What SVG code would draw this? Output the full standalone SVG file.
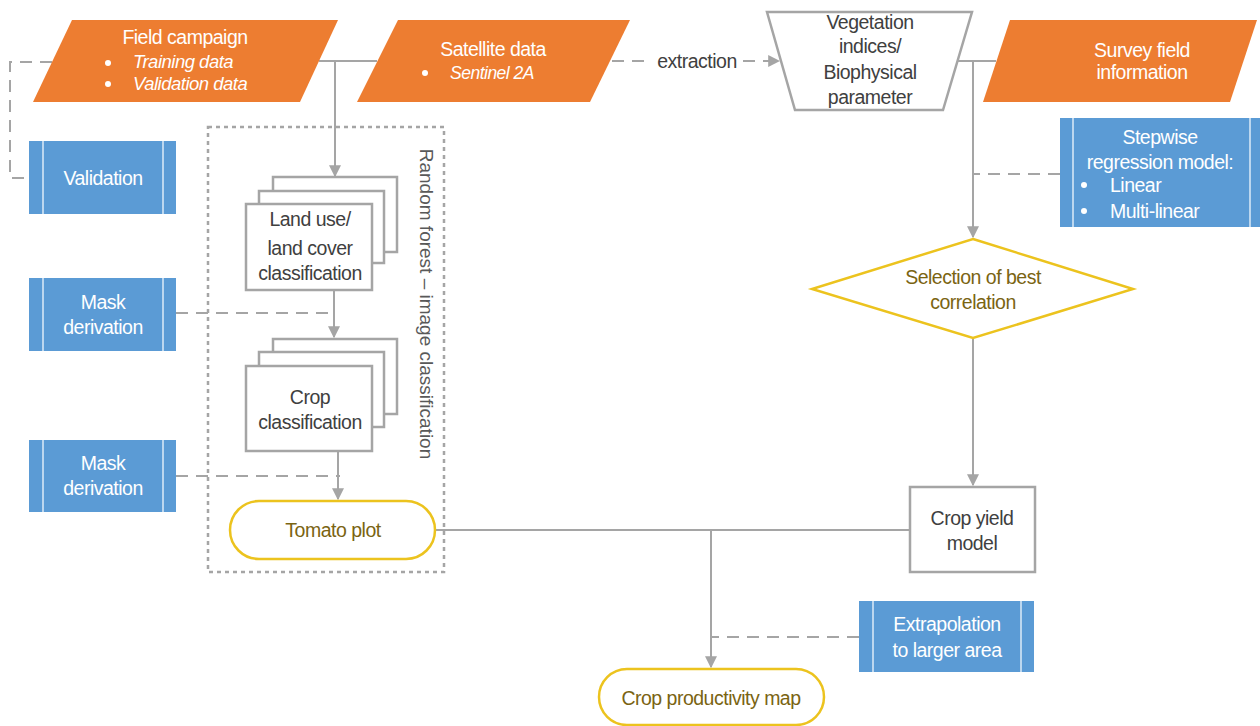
<svg xmlns="http://www.w3.org/2000/svg" width="1260" height="726" viewBox="0 0 1260 726">
<defs>
<marker id="arr" viewBox="0 0 10 10" refX="9" refY="5" markerWidth="12" markerHeight="12" markerUnits="userSpaceOnUse" orient="auto"><path d="M0,0 L10,5 L0,10 z" fill="#a5a5a5"/></marker>
<style>
.t{font-family:"Liberation Sans",Arial,sans-serif;font-size:19.5px;text-anchor:middle;letter-spacing:-0.5px}
.w{fill:#ffffff}
.g{fill:#404040}
.y{fill:#7a6412}
.or{fill:#ed7d31;stroke:none}
.bl{fill:#5b9bd5;stroke:none}
.bi{stroke:#ddebf7;stroke-width:1.5;fill:none}
.box{fill:#ffffff;stroke:#a5a5a5;stroke-width:2.5}
.yl{fill:#ffffff;stroke:#ecc31e;stroke-width:2.5}
.ln{stroke:#a5a5a5;stroke-width:2;fill:none}
.ds{stroke:#a5a5a5;stroke-width:2;fill:none;stroke-dasharray:12 8}
.it{text-anchor:start;font-style:italic;font-size:18.5px}
</style>
</defs>
<rect width="1260" height="726" fill="#ffffff"/>

<g id="random-forest-group">
<rect x="208" y="127" width="236" height="445" fill="none" stroke="#a5a5a5" stroke-width="2.5" stroke-dasharray="4 4"/>
<text x="0" y="0" transform="translate(420,304) rotate(90)" style="font-family:'Liberation Sans',Arial,sans-serif;font-size:19px;text-anchor:middle;fill:#595959">Random forest – image classification</text>
</g>

<g id="connectors">
<path class="ds" d="M52,62 H10 V178 H30"/>
<path class="ln" d="M319,61 H377"/>
<path class="ln" d="M335,61 V176" marker-end="url(#arr)"/>
<path class="ds" d="M612,61 H650"/>
<path class="ds" d="M743,61 H779" marker-end="url(#arr)"/>
<path class="ln" d="M957,61 H996"/>
<path class="ln" d="M973,61 V237" marker-end="url(#arr)"/>
<path class="ds" d="M1060,174 H973"/>
<path class="ln" d="M334,291 V337" marker-end="url(#arr)"/>
<path class="ds" d="M176,313 H330"/>
<path class="ln" d="M338,452 V499" marker-end="url(#arr)"/>
<path class="ds" d="M176,476 H340"/>
<path class="ln" d="M973,339 V485" marker-end="url(#arr)"/>
<path class="ln" d="M435,530 H910"/>
<path class="ln" d="M711,530 V667" marker-end="url(#arr)"/>
<path class="ds" d="M859,637 H712"/>
<text class="t g" x="697" y="68">extraction</text>
</g>

<g id="field-campaign">
<polygon class="or" points="72,20 338,20 300,102 33,102"/>
<text class="t w" x="185" y="44">Field campaign</text>
<circle cx="108" cy="63" r="3" fill="#fff"/>
<text class="t w it" x="133" y="68">Training data</text>
<circle cx="108" cy="84" r="3" fill="#fff"/>
<text class="t w it" x="133" y="90">Validation data</text>
</g>

<g id="satellite-data">
<polygon class="or" points="398,20 630,20 590,102 357,102"/>
<text class="t w" x="493" y="56">Satellite data</text>
<circle cx="425" cy="73" r="3" fill="#fff"/>
<text class="t w it" x="450" y="79" style="font-size:17.5px">Sentinel 2A</text>
</g>

<g id="vegetation-indices">
<polygon points="767,12 972,12 943,110 795,110" fill="#ffffff" stroke="#a5a5a5" stroke-width="2.5"/>
<text class="t g" x="870" y="29">Vegetation</text>
<text class="t g" x="870" y="53">indices/</text>
<text class="t g" x="870" y="79">Biophysical</text>
<text class="t g" x="870" y="104">parameter</text>
</g>

<g id="survey-field">
<polygon class="or" points="1010,20 1257,20 1230,102 983,102"/>
<text class="t w" x="1142" y="57">Survey field</text>
<text class="t w" x="1142" y="79">information</text>
</g>

<g id="validation">
<rect class="bl" x="29" y="141" width="147" height="73"/>
<path class="bi" d="M43,141 V214 M163,141 V214"/>
<text class="t w" x="103" y="185">Validation</text>
</g>

<g id="stepwise-regression">
<rect class="bl" x="1060" y="118" width="200" height="109"/>
<path class="bi" d="M1073,118 V227 M1250,118 V227"/>
<text class="t w" x="1160" y="144">Stepwise</text>
<text class="t w" x="1160" y="169">regression model:</text>
<circle cx="1084" cy="185" r="3" fill="#fff"/>
<text class="t w" x="1110" y="192" style="text-anchor:start">Linear</text>
<circle cx="1084" cy="211" r="3" fill="#fff"/>
<text class="t w" x="1110" y="218" style="text-anchor:start">Multi-linear</text>
</g>

<g id="land-use-classification">
<rect class="box" x="273" y="177" width="124" height="75"/>
<rect class="box" x="259" y="191" width="125" height="72"/>
<rect class="box" x="246" y="204" width="126" height="86"/>
<text class="t g" x="310" y="226">Land use/</text>
<text class="t g" x="310" y="255">land cover</text>
<text class="t g" x="310" y="280">classification</text>
</g>

<g id="mask-derivation-1">
<rect class="bl" x="29" y="278" width="147" height="73"/>
<path class="bi" d="M43,278 V351 M163,278 V351"/>
<text class="t w" x="103" y="309">Mask</text>
<text class="t w" x="103" y="334">derivation</text>
</g>

<g id="crop-classification">
<rect class="box" x="273" y="339" width="124" height="75"/>
<rect class="box" x="259" y="352" width="125" height="75"/>
<rect class="box" x="246" y="366" width="126" height="85"/>
<text class="t g" x="310" y="404">Crop</text>
<text class="t g" x="310" y="429">classification</text>
</g>

<g id="mask-derivation-2">
<rect class="bl" x="29" y="440" width="147" height="72"/>
<path class="bi" d="M43,440 V512 M163,440 V512"/>
<text class="t w" x="103" y="470">Mask</text>
<text class="t w" x="103" y="495">derivation</text>
</g>

<g id="tomato-plot">
<rect class="yl" x="230" y="501" width="205" height="58" rx="29"/>
<text class="t y" x="333" y="537">Tomato plot</text>
</g>

<g id="selection-best-correlation">
<polygon class="yl" points="973,239 1133,289 973,338 812,289"/>
<text class="t y" x="973" y="284">Selection of best</text>
<text class="t y" x="973" y="309">correlation</text>
</g>

<g id="crop-yield-model">
<rect class="box" x="910" y="487" width="125" height="85"/>
<text class="t g" x="972" y="525">Crop yield</text>
<text class="t g" x="972" y="550">model</text>
</g>

<g id="extrapolation">
<rect class="bl" x="859" y="601" width="175" height="71"/>
<path class="bi" d="M873,601 V672 M1021,601 V672"/>
<text class="t w" x="947" y="631">Extrapolation</text>
<text class="t w" x="947" y="657">to larger area</text>
</g>

<g id="crop-productivity-map">
<rect class="yl" x="599" y="669" width="225" height="56" rx="28"/>
<text class="t y" x="711" y="705">Crop productivity map</text>
</g>
</svg>
